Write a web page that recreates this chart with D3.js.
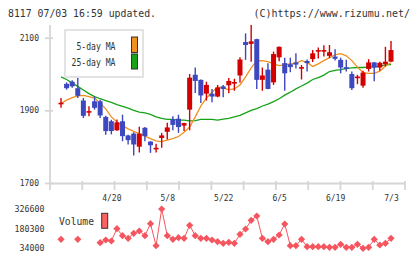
<!DOCTYPE html>
<html>
<head>
<meta charset="utf-8">
<script src="https://cdn.jsdelivr.net/npm/d3@7"></script>
<style>
body { margin: 0; background: #fff; }
text { font-family: "DejaVu Sans Mono", monospace; fill: #333; }
</style>
</head>
<body>
<div id="chart"></div>
<script>
// daily prices, oldest first
var open  = [1919,1973,1979,1961,1927,1896,1925,1925,1882,1870,1845,1870,1831,1836,1800,1852,1814,1796,1824,1841,
             1875,1877,1858,1902,1998,1984,1946,1946,1938,1966,1969,1976,1996,2088,2083,2096,1984,2012,1977,2046,
             2030,2027,2032,2017,2036,2041,2064,2064,2050,2048,2039,2019,2000,1989,1968,2014,2032,2018,2027,2034];
var high  = [1934,1977,1983,1989,1934,1911,1938,1929,1885,1874,1875,1888,1833,1840,1855,1854,1815,1808,1838,1866,
             1884,1888,1866,2000,2018,1985,1979,1959,1970,1970,1989,1987,2046,2112,2135,2097,2018,2030,2062,2076,
             2045,2045,2057,2025,2040,2066,2073,2079,2080,2068,2045,2039,2007,1998,2009,2041,2033,2034,2075,2091];
var low   = [1907,1957,1962,1934,1879,1884,1902,1879,1833,1834,1844,1815,1806,1776,1784,1815,1783,1784,1797,1820,
             1845,1838,1843,1845,1948,1920,1927,1922,1936,1936,1947,1954,1977,2039,2034,1959,1954,1958,1970,2035,
             1954,2005,2015,1985,2007,2033,2043,2048,2044,2037,2002,2007,1956,1972,1962,2007,1980,2009,2021,2034];
var close = [1921,1961,1966,1940,1885,1898,1907,1886,1843,1843,1867,1829,1818,1806,1836,1829,1804,1797,1831,1853,
             1860,1854,1865,1990,1981,1941,1970,1938,1963,1959,1981,1978,2040,2080,2090,1984,1996,1959,2055,2075,
             2002,2019,2026,2019,2030,2057,2066,2066,2060,2042,2018,2014,1961,1993,2004,2032,2018,2031,2034,2066];

// moving averages as drawn
var ma5  = [1919,1928,1935,1940,1941,1938,1934,1920,1904,1882,1868,1858,1849,1842,1836,1829,1822,1816,1814,1818,
            1822,1828,1840,1854,1882,1912,1934,1950,1964,1961,1957,1959,1970,1992,2017,2036,2037,2034,2028,2023,
            2025,2028,2030,2037,2032,2021,2028,2037,2045,2053,2056,2050,2037,2019,2004,2002,2002,2008,2022,2031];
var ma25 = [1992,1985,1975,1966,1956,1946,1938,1932,1927,1922,1916,1911,1906,1900,1895,1893,1889,1882,1878,1875,
            1875,1873,1873,1871,1872,1875,1875,1875,1873,1876,1878,1882,1886,1893,1900,1905,1912,1917,1924,1932,
            1942,1950,1959,1967,1975,1985,1990,1997,2007,2010,2012,2015,2017,2018,2018,2019,2020,2021,2025,2026];

// volume (null = not plotted)
var volume = [101000,null,null,101000,null,null,null,75700,95800,88300,179900,127800,108500,145700,162800,127800,217100,53400,326600,127800,
              101000,112900,108500,205200,127800,108500,108500,95800,83100,71200,78700,71200,138200,177700,242500,274500,108500,83100,101000,133000,
              214900,53400,53400,101000,45900,45900,45900,45900,41400,41400,63800,41400,41400,63800,34000,41400,101000,58600,71200,108500];

var dateLabels = ["4/20", "5/8", "5/22", "6/5", "6/19", "7/3"];
var dateIdx = [9, 19, 29, 39, 49, 59];
var priceTicks = [1700, 1900, 2100];

var red = "#d40000", blue = "#3d47bf", orange = "#f0901e", green = "#17a317",
    volColor = "#f5555f", gridColor = "#d6d6d6";

var svgWidth = 420, svgHeight = 259;
var svg = d3.select("#chart").append("svg")
    .attr("width", svgWidth)
    .attr("height", svgHeight);

// scales
var x = d3.scaleLinear().domain([0, close.length - 1]).range([61, 391]);
var y = d3.scaleLinear().domain([1700, 2135]).range([183, 25]);
var yVol = d3.scaleLinear().domain(d3.extent(volume)).range([248.3, 209]);

svg.append("defs").append("clipPath").attr("id", "clip")
  .append("rect").attr("x", 50).attr("y", 25).attr("width", 356).attr("height", 158);

// header
svg.append("text").attr("x", 8).attr("y", 17).attr("font-size", 10)
    .attr("textLength", 148).attr("lengthAdjust", "spacingAndGlyphs")
    .text("8117 07/03 16:59 updated.");
svg.append("text").attr("x", 410).attr("y", 17).attr("font-size", 10)
    .attr("text-anchor", "end")
    .text("(C)https://www.rizumu.net/");

// frame: left axis, bottom line, grid ticks
svg.append("line").attr("x1", 50).attr("x2", 50).attr("y1", 25).attr("y2", 190)
    .attr("stroke", gridColor).attr("stroke-width", 1.8);
svg.append("line").attr("x1", 50).attr("x2", 406).attr("y1", 183.5).attr("y2", 183.5)
    .attr("stroke", gridColor).attr("stroke-width", 1.8);
svg.selectAll("line.grid").data(d3.range(1, 12)).enter().append("line")
    .attr("class", "grid")
    .attr("x1", d => 50 + d * 355 / 11).attr("x2", d => 50 + d * 355 / 11)
    .attr("y1", 181).attr("y2", 190)
    .attr("stroke", gridColor).attr("stroke-width", 1.8);

// price axis
var leftAxis = d3.axisLeft(y).tickValues(priceTicks).tickFormat(d3.format("d"))
    .tickSize(5).tickPadding(6);
var gy = svg.append("g").attr("transform", "translate(50,0)").call(leftAxis);
gy.select(".domain").remove();
gy.selectAll(".tick line").attr("x1", 3).attr("x2", -5).attr("stroke", gridColor).attr("stroke-width", 1.8);
gy.selectAll(".tick text").attr("font-size", 8).attr("font-family", "DejaVu Sans Mono").attr("fill", "#333");

// date axis
var bottomAxis = d3.axisBottom(x).tickValues(dateIdx)
    .tickFormat((d, i) => dateLabels[i]).tickSize(0).tickPadding(12);
var gx = svg.append("g").attr("transform", "translate(0,183.5)").call(bottomAxis);
gx.select(".domain").remove();
gx.selectAll(".tick text").attr("font-size", 8).attr("font-family", "DejaVu Sans Mono").attr("fill", "#333");

// moving averages
var plot = svg.append("g").attr("clip-path", "url(#clip)");
var maLine = d3.line().x((d, i) => x(i)).y(d => y(d));
plot.append("path").datum(ma25).attr("d", maLine)
    .attr("fill", "none").attr("stroke", green).attr("stroke-width", 1.3);
plot.append("path").datum(ma5).attr("d", maLine)
    .attr("fill", "none").attr("stroke", orange).attr("stroke-width", 1.3);

// candles
var candle = plot.selectAll("g.candle").data(close).enter().append("g").attr("class", "candle");
candle.append("line")
    .attr("x1", (d, i) => x(i)).attr("x2", (d, i) => x(i))
    .attr("y1", (d, i) => y(high[i])).attr("y2", (d, i) => y(low[i]))
    .attr("stroke", (d, i) => close[i] >= open[i] ? red : blue)
    .attr("stroke-width", 1.4);
candle.append("rect")
    .attr("x", (d, i) => x(i) - 2.5)
    .attr("width", 5)
    .attr("y", (d, i) => y(Math.max(open[i], close[i])))
    .attr("height", (d, i) => Math.max(1.6, Math.abs(y(open[i]) - y(close[i]))))
    .attr("fill", (d, i) => close[i] >= open[i] ? red : blue);

// legend
svg.append("rect").attr("x", 65).attr("y", 30).attr("width", 78).attr("height", 47)
    .attr("fill", "#fff").attr("stroke", "#dcdcdc").attr("stroke-width", 1.6);
svg.append("text").attr("x", 115.5).attr("y", 49.5).attr("font-size", 10)
    .attr("text-anchor", "end").attr("textLength", 39).attr("lengthAdjust", "spacingAndGlyphs")
    .text("5-day MA");
svg.append("text").attr("x", 115.5).attr("y", 66).attr("font-size", 10)
    .attr("text-anchor", "end").attr("textLength", 44).attr("lengthAdjust", "spacingAndGlyphs")
    .text("25-day MA");
svg.append("rect").attr("x", 131.5).attr("y", 37).attr("width", 6).attr("height", 15.5)
    .attr("fill", orange).attr("stroke", "#333").attr("stroke-width", 1);
svg.append("rect").attr("x", 131.5).attr("y", 54).attr("width", 6).attr("height", 15)
    .attr("fill", green).attr("stroke", "#333").attr("stroke-width", 1);

// volume
var volTicks = [yVol.domain()[0], (yVol.domain()[0] + yVol.domain()[1]) / 2, yVol.domain()[1]];
svg.selectAll("text.vtick").data(volTicks).enter().append("text")
    .attr("class", "vtick")
    .attr("x", 44.5).attr("y", d => yVol(d) + 3)
    .attr("font-size", 8.3).attr("text-anchor", "end")
    .text(d => d);

var volLine = d3.line().defined(d => d != null).x((d, i) => x(i)).y(d => yVol(d));
svg.append("path").datum(volume).attr("d", volLine)
    .attr("fill", "none").attr("stroke", volColor).attr("stroke-width", 1);
var marker = d3.symbol().type(d3.symbolSquare).size(26);
svg.selectAll("path.vpt").data(volume.map((v, i) => [i, v]).filter(d => d[1] != null))
    .enter().append("path")
    .attr("class", "vpt")
    .attr("d", marker)
    .attr("transform", d => `translate(${x(d[0])},${yVol(d[1])}) rotate(45)`)
    .attr("fill", volColor);

svg.append("text").attr("x", 59).attr("y", 225).attr("font-size", 10)
    .attr("textLength", 35).attr("lengthAdjust", "spacingAndGlyphs")
    .text("Volume");
svg.append("rect").attr("x", 101.7).attr("y", 213.3).attr("width", 6).attr("height", 15)
    .attr("fill", "#ff6060").attr("stroke", "#333").attr("stroke-width", 1);
</script>
</body>
</html>
